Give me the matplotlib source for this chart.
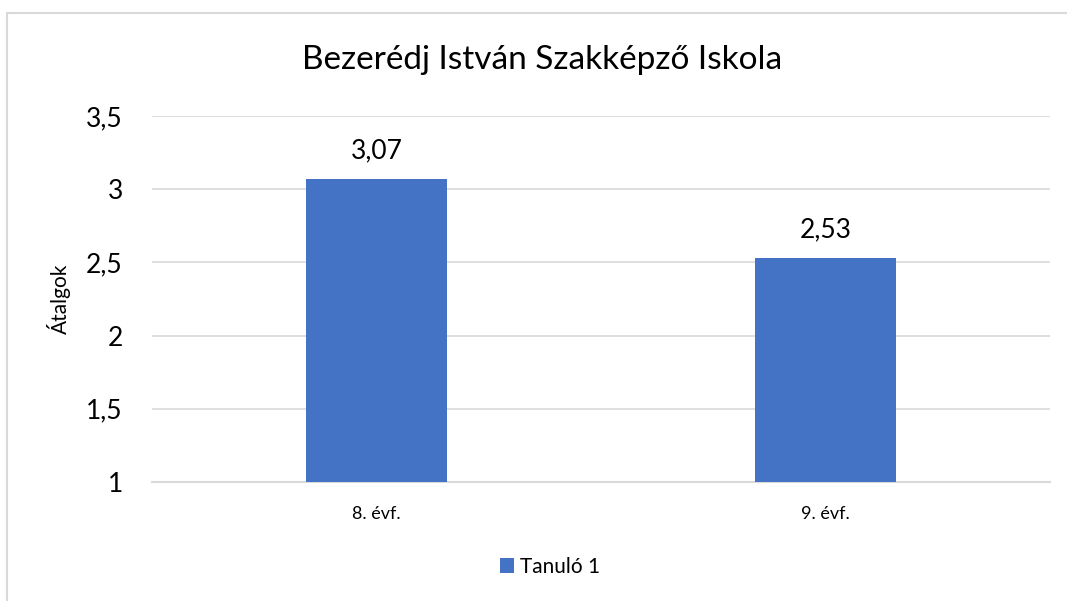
import matplotlib
matplotlib.use("Agg")
import matplotlib.pyplot as plt
import matplotlib.patches as patches

categories = ["8. évf.", "9. évf."]
values = [3.07, 2.53]
labels = ["3,07", "2,53"]
yticks = [1, 1.5, 2, 2.5, 3, 3.5]
ytick_labels = ["1", "1,5", "2", "2,5", "3", "3,5"]
series_name = "Tanuló 1"
title = "Bezerédj István Szakképző Iskola"

plt.rcParams['font.family'] = ['Lato', 'DejaVu Sans']

fig = plt.figure(figsize=(10.67, 6.01), dpi=100)
ax = fig.add_axes([152 / 1067, 119 / 601, 898 / 1067, 366 / 601])

# chart frame
frame = patches.Rectangle((7 / 1067, -0.05), 1.1, (601 - 13) / 601 + 0.05,
                          transform=fig.transFigure, fill=False,
                          edgecolor="#d9d9d9", linewidth=1.5)
fig.patches.append(frame)

x = range(len(categories))
bars = ax.bar(x, values, width=0.316, color="#4472c4", label=series_name, zorder=3, bottom=0)
ax.set_xlim(-0.5, 1.5)
ax.set_ylim(1, 3.5)
ax.set_yticks(yticks)
ax.set_yticklabels(ytick_labels, fontsize=19)
ax.set_xticks(list(x))
ax.set_xticklabels(categories, fontsize=13)
ax.tick_params(length=0)
ax.tick_params(axis="y", pad=21)
ax.tick_params(axis="x", pad=17)

ax.grid(axis="y", color="#d9d9d9", linewidth=1.2, zorder=0)
for s in ["top", "right", "left"]:
    ax.spines[s].set_visible(False)
ax.spines["bottom"].set_color("#d9d9d9")
ax.spines["bottom"].set_linewidth(1.5)

for xi, v, lab in zip(x, values, labels):
    ax.annotate(lab, (xi, v), xytext=(0, 11), textcoords="offset points",
                ha="center", va="bottom", fontsize=19, color="#000000")

ax.set_ylabel("Átalgok", fontsize=15)
ax.yaxis.set_label_coords(-0.09, 0.5)

fig.text(542 / 1067, 1 - 60 / 601, title, ha="center", va="center", fontsize=24)

fig.legend(loc="center", bbox_to_anchor=(550 / 1067, 1 - 567 / 601), frameon=False,
           fontsize=15, handlelength=0.7, handleheight=0.7, handletextpad=0.3)

fig.savefig("out.png", dpi=100)
